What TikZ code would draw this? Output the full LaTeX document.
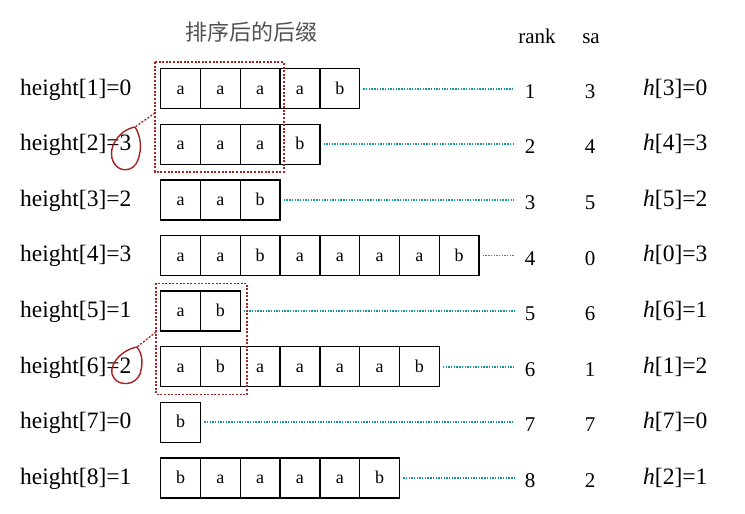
\documentclass[tikz,border=0pt]{standalone}
\usepackage{fontspec}
\setmainfont{Liberation Serif}
\newfontfamily\cjk{Noto Sans CJK SC}
\usetikzlibrary{calc}
\definecolor{teal1}{RGB}{20,150,160}
\definecolor{dred}{RGB}{165,35,35}
\begin{document}
\begin{tikzpicture}[x=1pt,y=-1pt,
  cell/.style={draw, line width=1.3pt, minimum width=39.8pt, minimum height=40pt, inner sep=0pt,
    text height=11.2pt, text depth=0pt, font=\fontsize{18}{18}\selectfont, anchor=west},
  lab/.style={anchor=west, inner sep=0pt, text height=12.6pt, text depth=0pt, font=\fontsize{23.5}{23.5}\selectfont},
  num/.style={inner sep=0pt, text height=13pt, text depth=0pt, font=\fontsize{21}{21}\selectfont},
  link/.style={teal1, line width=1.7pt, dash pattern=on 1.4pt off 1.3pt},
  grp/.style={dred, line width=1.7pt, dash pattern=on 2pt off 1.6pt},
  loopc/.style={dred, line width=1.4pt}]
\useasboundingbox (0,0) rectangle (745,514);
\node[font=\cjk\fontsize{22}{22}\selectfont, text=black!68, inner sep=0pt] (title) at (251,32) {排序后的后缀};
\node[num] (rank) at (537,37) {rank};
\node[num] (sa) at (591,37) {sa};
\foreach \k/\hv/\cells/\s in {1/0/{a,a,a,a,b}/3, 2/3/{a,a,a,b}/4, 3/2/{a,a,b}/5, 4/3/{a,a,b,a,a,a,a,b}/0,
  5/1/{a,b}/6, 6/2/{a,b,a,a,a,a,b}/1, 7/0/{b}/7, 8/1/{b,a,a,a,a,b}/2} {
  \pgfmathsetmacro\y{88.7+55.6*(\k-1)}
  \node[lab] (lab\k) at (20,\y) {height[\k]=\hv};
  \foreach \c [count=\i] in \cells {
    \node[cell] (c\k-\i) at ({160+39.8*(\i-1)},\y) {\c};
    \xdef\lastc{\i}
  }
  \coordinate (e\k) at (514,\y);
  \draw[link] ([xshift=3pt]c\k-\lastc.east) -- (e\k);
  \node[num] (r\k) at (530,\y+3) {\k};
  \node[num] (s\k) at (590,\y+3) {\s};
  \node[lab] (h\k) at (643,\y) {\textit{h}[\s]=\hv};
}
% groups
\draw[grp] ($(c1-1.north west)+(-5,-6)$) rectangle ($(c2-3.south east)+(3,7)$);
\draw[grp] ($(c5-1.north west)+(-4,-7)$) rectangle ($(c6-2.south east)+(6,7)$);
% hand-drawn loops
\coordinate (t1) at (135,127);
\coordinate (t2) at (137,347);
\draw[loopc] (t1) .. controls (118,130) and (106,150) .. (114,163)
  .. controls (119,172) and (133,173) .. (138,160) .. controls (142,149) and (141,136) .. (t1);
\draw[loopc] (t2) .. controls (120,350) and (106,368) .. (114,378)
  .. controls (119,386) and (135,386) .. (140,374) .. controls (143,364) and (143,355) .. (t2);
\coordinate (g1) at (155,113);
\coordinate (g2) at (156,332);
\draw[grp, line width=1.3pt] (g1) -- (t1);
\draw[grp, line width=1.3pt] (g2) -- (t2);
\end{tikzpicture}
\end{document}
